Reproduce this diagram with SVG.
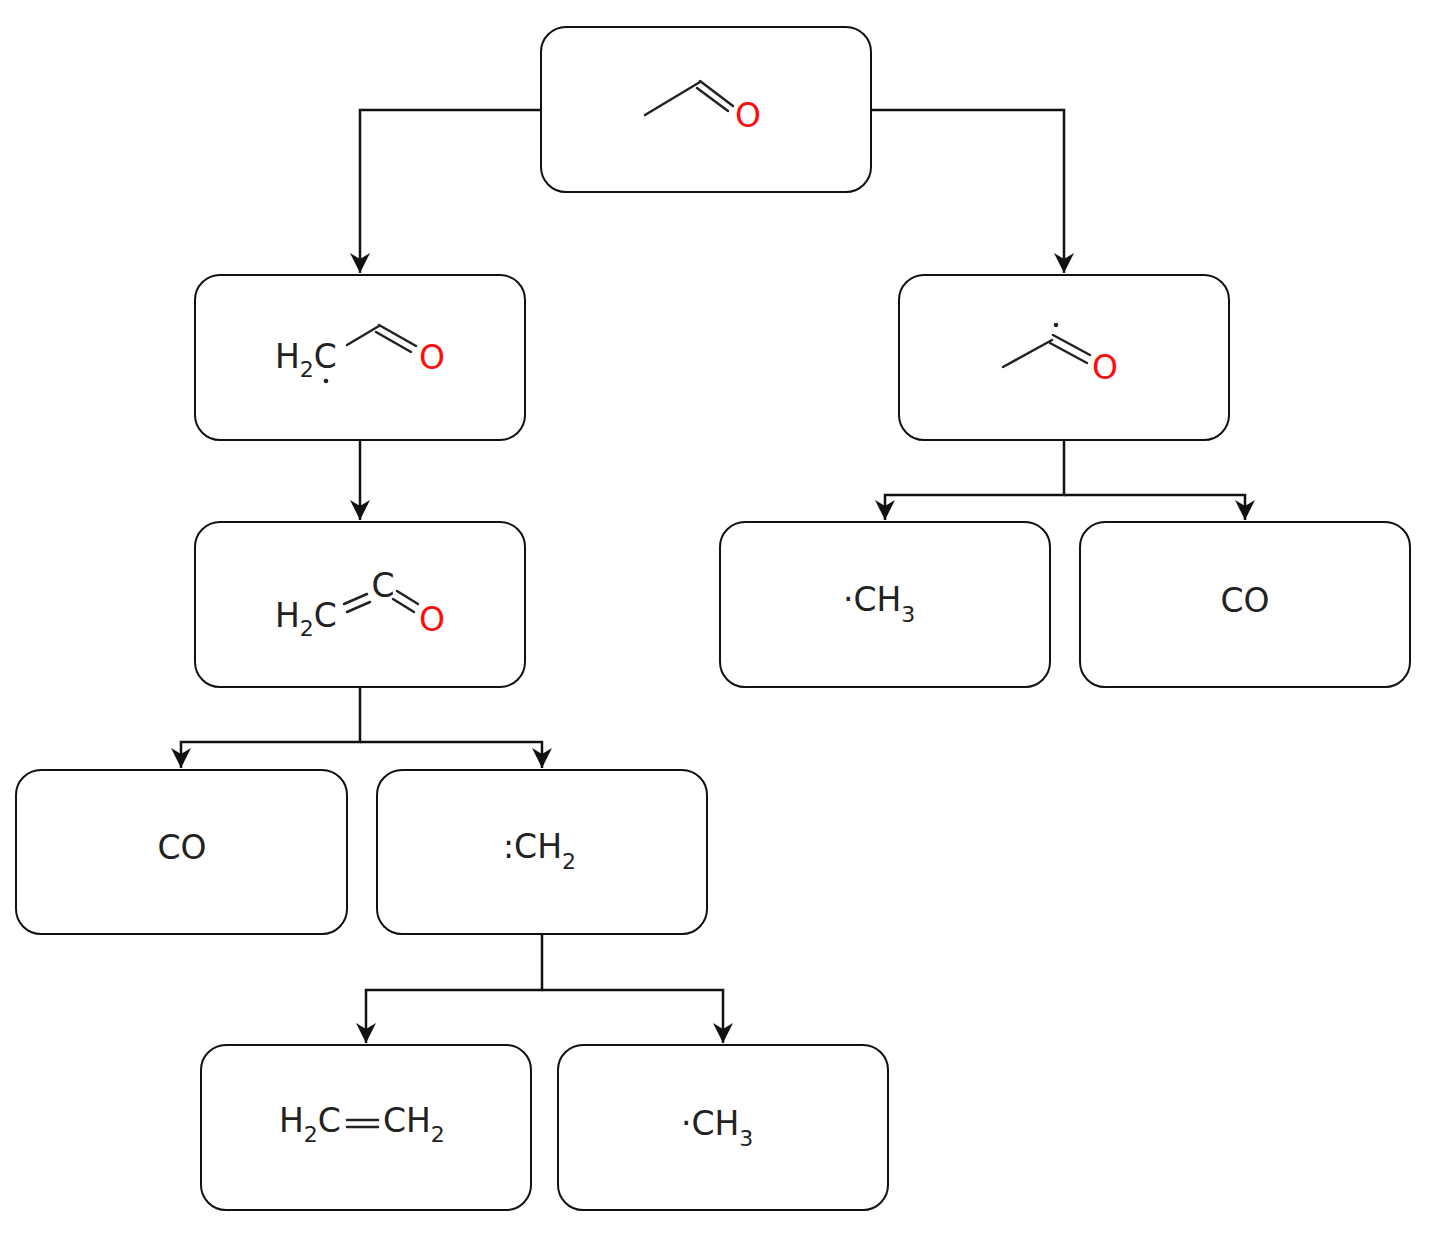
<svg xmlns="http://www.w3.org/2000/svg" width="1437" height="1242" viewBox="0 0 1437 1242">
<defs>
<style>
.box{fill:#fff;stroke:#111;stroke-width:2}
.conn{fill:none;stroke:#111;stroke-width:2.5}
.bond{stroke:#222;stroke-width:2.5;stroke-linecap:round}
.t{font-family:"DejaVu Sans","Liberation Sans",sans-serif;font-size:33px;fill:#222}
.o{fill:#ff0d0d}
.sub{font-size:22px}
</style>
<marker id="arr" markerUnits="userSpaceOnUse" markerWidth="20" markerHeight="20" refX="20" refY="10" orient="auto" viewBox="0 0 20 20">
<path d="M0,0 L20,10 L0,20 L6,10 z" fill="#111"/>
</marker>
</defs>
<rect width="1437" height="1242" fill="#fff"/>
<g id="connectors">
<path class="conn" d="M541,110 H360 V273" marker-end="url(#arr)"/>
<path class="conn" d="M871,110 H1064 V273" marker-end="url(#arr)"/>
<path class="conn" d="M360,440 V520" marker-end="url(#arr)"/>
<path class="conn" d="M1064,440 V495 H885 V520" marker-end="url(#arr)"/>
<path class="conn" d="M1064,495 H1245 V520" marker-end="url(#arr)"/>
<path class="conn" d="M360,687 V742 H181 V768" marker-end="url(#arr)"/>
<path class="conn" d="M360,742 H542 V768" marker-end="url(#arr)"/>
<path class="conn" d="M542,934 V990 H366 V1043" marker-end="url(#arr)"/>
<path class="conn" d="M542,990 H723 V1043" marker-end="url(#arr)"/>
</g>
<g id="acetaldehyde">
<rect class="box" x="541" y="27" width="330" height="165" rx="25"/>
<line class="bond" x1="645" y1="115" x2="700" y2="82"/>
<line class="bond" x1="700" y1="81" x2="733" y2="106"/>
<line class="bond" x1="697" y1="88" x2="728" y2="111"/>
<text class="t o" x="748" y="127" text-anchor="middle">O</text>
</g>
<g id="formylmethyl">
<rect class="box" x="195" y="275" width="330" height="165" rx="25"/>
<text class="t" x="275" y="368">H<tspan class="sub" dy="9">2</tspan><tspan dy="-9">C</tspan></text>
<circle cx="326" cy="381" r="2.3" fill="#222"/>
<line class="bond" x1="347" y1="345" x2="379" y2="326"/>
<line class="bond" x1="379" y1="325" x2="416" y2="346"/>
<line class="bond" x1="376" y1="332" x2="411" y2="352"/>
<text class="t o" x="432" y="369" text-anchor="middle">O</text>
</g>
<g id="acetyl">
<rect class="box" x="899" y="275" width="330" height="165" rx="25"/>
<line class="bond" x1="1003" y1="367" x2="1052" y2="340"/>
<line class="bond" x1="1053" y1="335" x2="1090" y2="355"/>
<line class="bond" x1="1050" y1="343" x2="1087" y2="363"/>
<circle cx="1056" cy="325" r="2.3" fill="#222"/>
<text class="t o" x="1105" y="379" text-anchor="middle">O</text>
</g>
<g id="ketene">
<rect class="box" x="195" y="522" width="330" height="165" rx="25"/>
<text class="t" x="275" y="627">H<tspan class="sub" dy="9">2</tspan><tspan dy="-9">C</tspan></text>
<line class="bond" x1="344" y1="604" x2="367" y2="594"/>
<line class="bond" x1="347" y1="612" x2="370" y2="602"/>
<text class="t" x="383" y="597" text-anchor="middle">C</text>
<line class="bond" x1="397" y1="591" x2="418" y2="604"/>
<line class="bond" x1="393" y1="599" x2="414" y2="612"/>
<text class="t o" x="432" y="631" text-anchor="middle">O</text>
</g>
<g id="methyl1">
<rect class="box" x="720" y="522" width="330" height="165" rx="25"/>
<text class="t" x="843" y="611">·CH<tspan class="sub" dy="11">3</tspan></text>
</g>
<g id="co1">
<rect class="box" x="1080" y="522" width="330" height="165" rx="25"/>
<text class="t" x="1245" y="612" text-anchor="middle">CO</text>
</g>
<g id="co2">
<rect class="box" x="16" y="770" width="331" height="164" rx="25"/>
<text class="t" x="182" y="859" text-anchor="middle">CO</text>
</g>
<g id="methylene">
<rect class="box" x="377" y="770" width="330" height="164" rx="25"/>
<text class="t" x="503" y="858">:CH<tspan class="sub" dy="11">2</tspan></text>
</g>
<g id="ethylene">
<rect class="box" x="201" y="1045" width="330" height="165" rx="25"/>
<text class="t" x="279" y="1132">H<tspan class="sub" dy="10">2</tspan><tspan dy="-10">C</tspan></text>
<line class="bond" x1="347" y1="1120" x2="378" y2="1120"/>
<line class="bond" x1="347" y1="1127" x2="378" y2="1127"/>
<text class="t" x="383" y="1132">CH<tspan class="sub" dy="10">2</tspan></text>
</g>
<g id="methyl2">
<rect class="box" x="558" y="1045" width="330" height="165" rx="25"/>
<text class="t" x="681" y="1135">·CH<tspan class="sub" dy="11">3</tspan></text>
</g>
</svg>
